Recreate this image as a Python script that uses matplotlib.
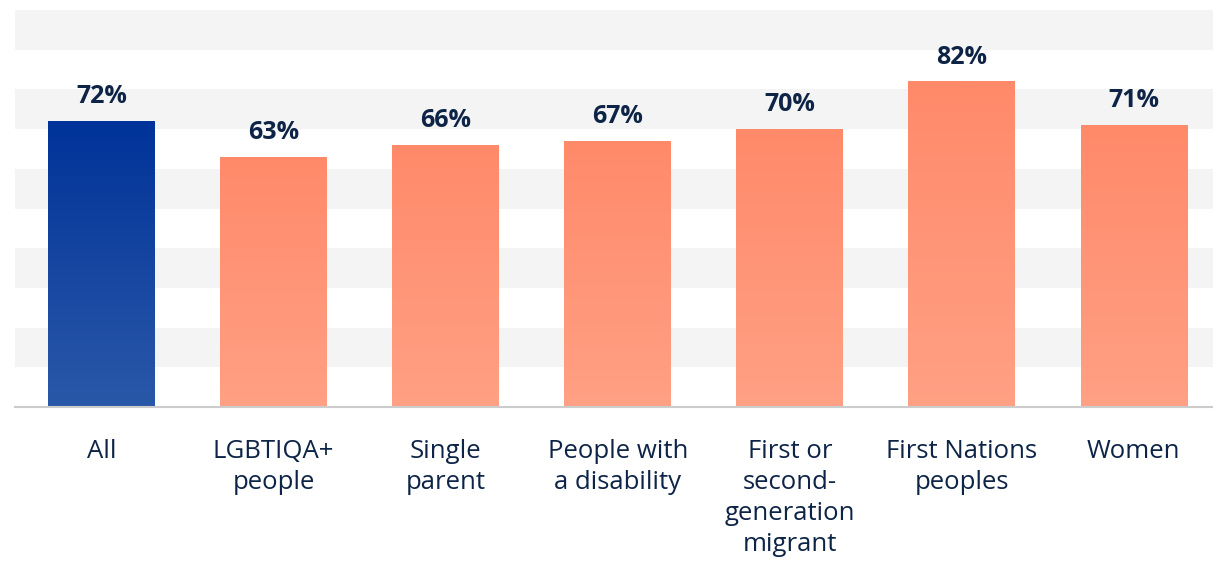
import numpy as np
import matplotlib
matplotlib.use("Agg")
import matplotlib.pyplot as plt
from matplotlib.colors import LinearSegmentedColormap

plt.rcParams['font.family'] = ['Open Sans', 'DejaVu Sans']

categories = ["All", "LGBTIQA+\npeople", "Single\nparent", "People with\na disability",
              "First or\nsecond-\ngeneration\nmigrant", "First Nations\npeoples", "Women"]
values = [72, 63, 66, 67, 70, 82, 71]
value_labels = ["72%", "63%", "66%", "67%", "70%", "82%", "71%"]

navy = "#0d2447"
blue_grad = LinearSegmentedColormap.from_list("blue", ["#2a58a8", "#003399"])
salmon_grad = LinearSegmentedColormap.from_list("salmon", ["#ffa084", "#ff8a6a"])

fig = plt.figure(figsize=(12.13, 5.62), dpi=100)
ax = fig.add_axes([15 / 1213, 1 - 407 / 562, 1 - 15 / 1213, 397 / 562])
ax.set_xlim(-0.503, 6.46)
ax.set_ylim(0, 100)

# alternating horizontal bands
for lo in range(10, 100, 20):
    ax.axhspan(lo, lo + 10, color="#f4f4f4", lw=0, zorder=0)

x = np.arange(len(categories))
bars = ax.bar(x, values, width=0.62, color="none", lw=0, zorder=2)

grad = np.linspace(0, 1, 256).reshape(-1, 1)
for i, b in enumerate(bars):
    cmap = blue_grad if i == 0 else salmon_grad
    x0, y0 = b.get_x(), b.get_y()
    w, h = b.get_width(), b.get_height()
    im = ax.imshow(grad, cmap=cmap, origin="lower", aspect="auto",
                   extent=(x0, x0 + w, y0, y0 + h), zorder=2)
    im.set_clip_path(b)
    ax.text(x0 + w / 2, h + 3.0, value_labels[i], ha="center", va="bottom",
            fontsize=18, fontweight="bold", color=navy, zorder=3)

ax.axhline(0, color="#cccccc", lw=1.5, zorder=3, clip_on=False)

ax.set_xticks(x)
ax.set_xticklabels(categories, fontsize=18.5, color=navy, linespacing=1.32, va="top")
ax.tick_params(axis="x", length=0, pad=23)
ax.set_yticks([])
for s in ax.spines.values():
    s.set_visible(False)

fig.savefig("out.png", dpi=100, facecolor="white")
